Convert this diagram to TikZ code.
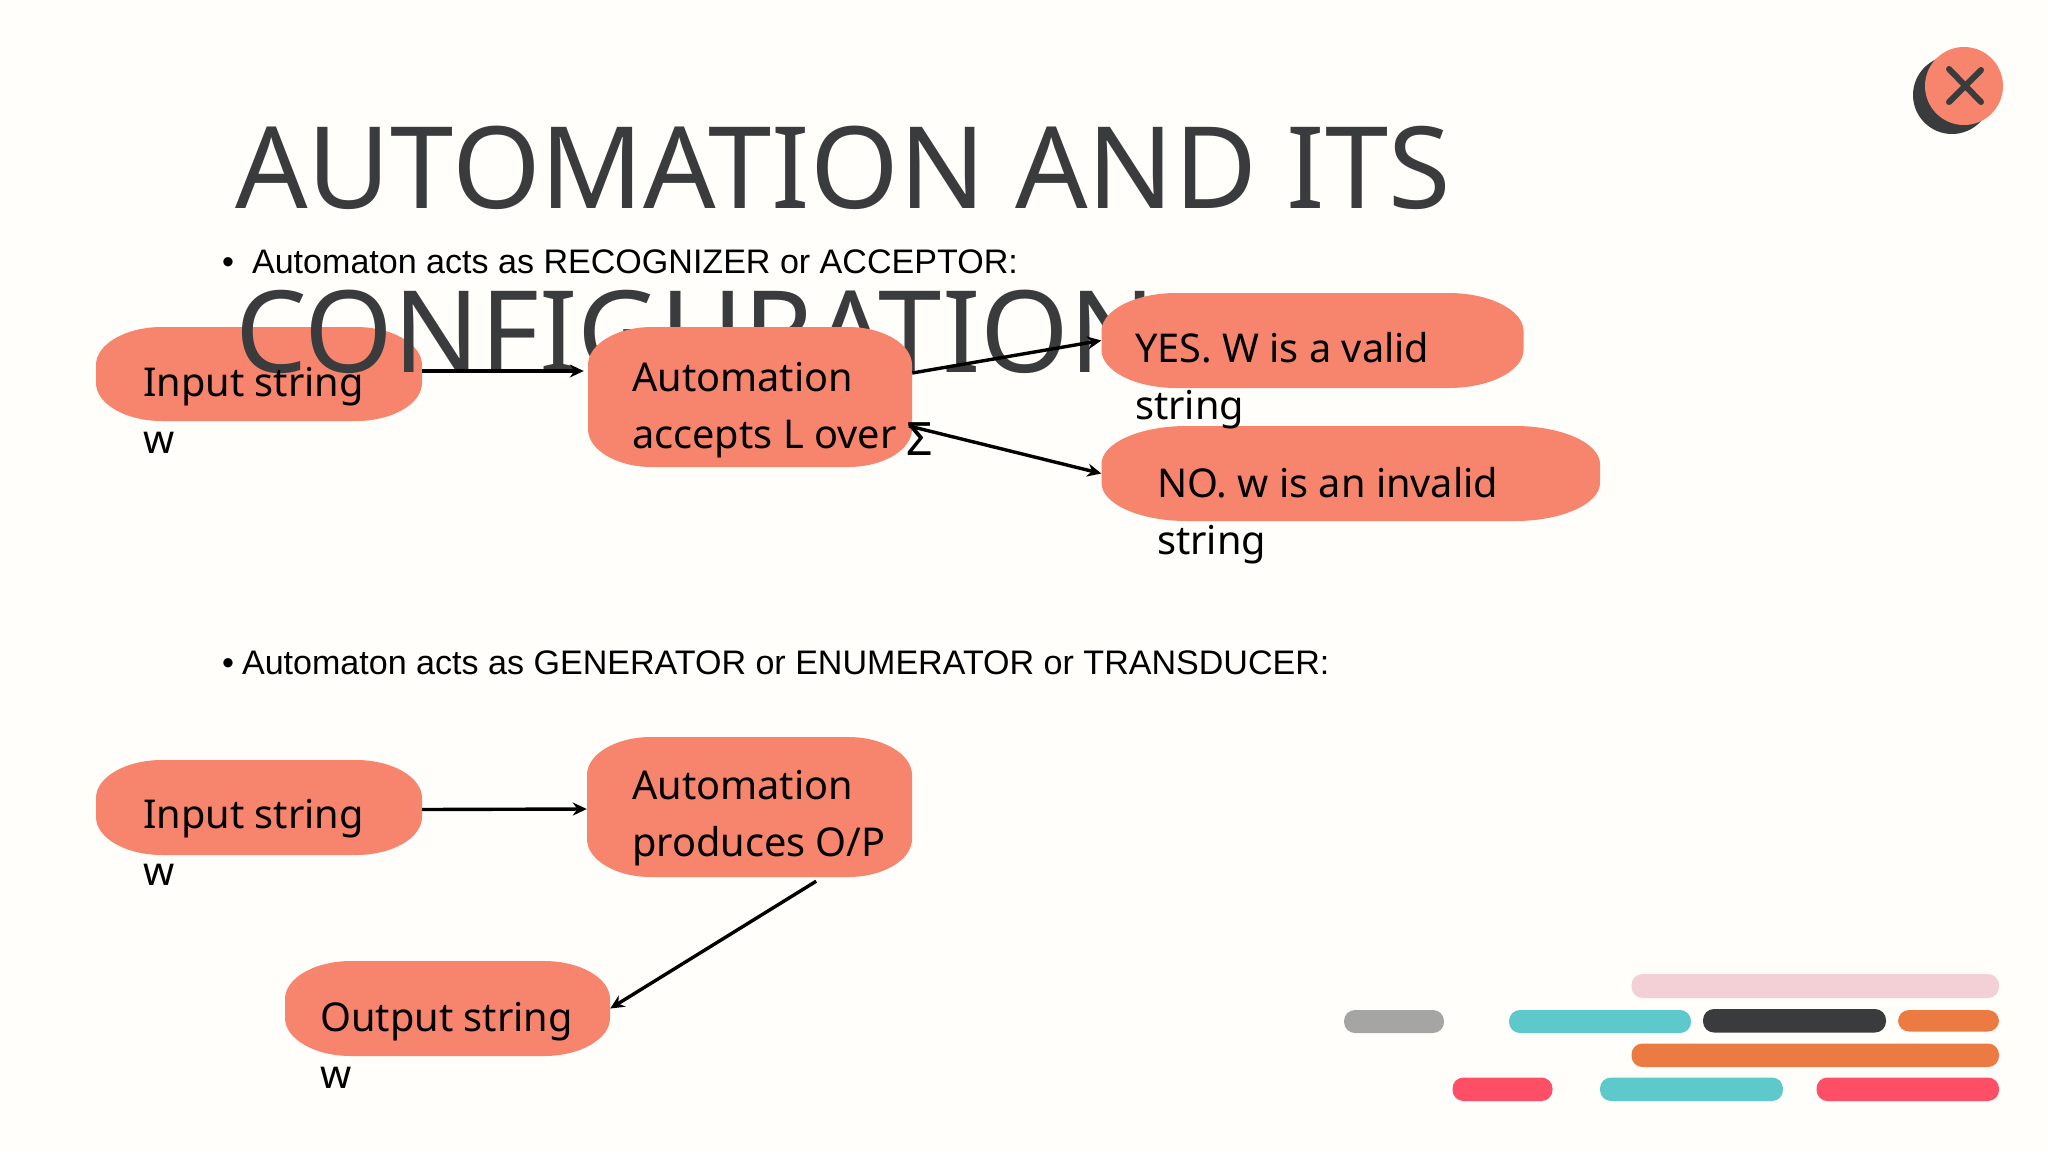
\documentclass[tikz,border=0pt]{standalone}
\usepackage{fontspec}
\setmainfont{Noto Sans}
\newfontfamily\bulletfont{Liberation Sans}
\usetikzlibrary{arrows.meta}
\definecolor{paper}{HTML}{FFFEFA}
\definecolor{salmon}{HTML}{F7846C}
\definecolor{inkdark}{HTML}{3A3B3D}
\definecolor{barpink}{HTML}{F2D0D6}
\definecolor{bargray}{HTML}{A5A5A3}
\definecolor{barteal}{HTML}{5EC9CB}
\definecolor{barorange}{HTML}{EC7A43}
\definecolor{barred}{HTML}{FE4F67}
\tikzset{
  x=1pt,y=-1pt,
  boxtext/.style={anchor=base west,inner sep=0pt,align=left,font=\fontsize{39.7}{57}\selectfont,text=black},
  titletext/.style={anchor=base west,inner sep=0pt,font=\fontsize{113.7}{114}\selectfont,text=inkdark},
  bullettext/.style={anchor=base west,inner sep=0pt,font=\bulletfont\fontsize{34.05}{42}\selectfont,text=black},
  link/.style={draw=black,line width=3.4pt,-{Stealth[length=14pt,width=13pt]}},
}
% #1 name, #2 x1, #3 y1, #4 x2, #5 y2, #6 corner x radius
\newcommand{\salmonbox}[6]{%
  \fill[salmon] (#2+#6,#3) -- (#4-#6,#3)
    .. controls (#4-0.45*#6,#3) and (#4,#3+0.45*38) .. (#4,#3+38)
    -- (#4,#5-38)
    .. controls (#4,#5-0.45*38) and (#4-0.45*#6,#5) .. (#4-#6,#5)
    -- (#2+#6,#5)
    .. controls (#2+0.45*#6,#5) and (#2,#5-0.45*38) .. (#2,#5-38)
    -- (#2,#3+38)
    .. controls (#2,#3+0.45*38) and (#2+0.45*#6,#3) .. (#2+#6,#3) -- cycle;
  \node[inner sep=0pt,minimum width=#4pt-#2pt,minimum height=#5pt-#3pt] (#1) at ({(#2+#4)/2},{(#3+#5)/2}) {};
}
\newcommand{\barshape}[6]{\fill[#1,rounded corners=#6pt] (#2,#3) rectangle (#4,#5);}
\begin{document}
\begin{tikzpicture}
\useasboundingbox (0,0) rectangle (2048,1152);
\fill[paper] (0,0) rectangle (2048,1152);
\salmonbox{inA}{96}{327}{422}{421}{66}
\node[titletext] (titleA) at (235,208) {AUTOMATION AND ITS};
\node[titletext] (titleB) at (235,372) {CONFIGURATION};
\salmonbox{autoA}{588}{327}{912}{467}{64}
\salmonbox{yes}{1101.5}{293}{1523.5}{388}{75}
\salmonbox{no}{1101.5}{426}{1600}{521}{85}
\salmonbox{inB}{96}{760}{422}{855}{66}
\salmonbox{autoB}{587}{737}{912}{877}{64}
\salmonbox{outB}{285}{961}{610}{1056}{66}
\node[bullettext] (bulA) at (222,273) {•\hspace{18pt}Automaton acts as RECOGNIZER or ACCEPTOR:};
\node[bullettext] (bulB) at (222,674) {•\hspace{8pt}Automaton acts as GENERATOR or ENUMERATOR or TRANSDUCER:};
\coordinate (sigmaTip) at (909,426);
\draw[link,shorten >=4pt] ([yshift=3pt]inA.east) -- ([yshift=26pt]autoA.west);
\draw[link] ([yshift=24pt]autoA.east) -- (yes.west);
\draw[link] (sigmaTip) -- (no.west);
\draw[link] ([yshift=-2pt]inB.east) -- ([yshift=-2pt]autoB.west);
\draw[link] ([xshift=-96pt,yshift=-4pt]autoB.south east) -- (outB.east);
\node[boxtext] (tA) at (143,453) {Input string\\w};
\node[boxtext] (tB) at (632,448) {Automation\\accepts L over \raisebox{-7pt}{\fontsize{46}{57}\selectfont Σ}};
\node[boxtext] (tC) at (1135,419) {YES. W is a valid\\string};
\node[boxtext] (tD) at (1157,554) {NO. w is an invalid\\string};
\node[boxtext] (tE) at (143,885) {Input string\\w};
\node[boxtext] (tF) at (632,856) {Automation\\produces O/P};
\node[boxtext] (tG) at (320,1088) {Output string\\w};
\fill[inkdark] (1952,95) circle (39);
\fill[salmon] (1964,86) circle (39);
\draw[inkdark,line width=6pt,line cap=round] (1949,69) -- (1981,102) (1981,70) -- (1949,102);
\barshape{barpink}{1631.5}{974}{1999}{998}{11}
\barshape{bargray}{1344}{1010}{1444}{1033}{11}
\barshape{barteal}{1509}{1010}{1691}{1033}{11}
\barshape{inkdark}{1703}{1009}{1886}{1032.5}{11}
\barshape{barorange}{1898}{1010}{1999}{1031.5}{11}
\barshape{barorange}{1631.5}{1043.5}{1999}{1067}{11}
\barshape{barred}{1452.5}{1077.5}{1552.5}{1101}{11}
\barshape{barteal}{1600}{1077.5}{1783}{1101}{11}
\barshape{barred}{1816.5}{1077.5}{1999}{1101}{11}
\end{tikzpicture}
\end{document}
